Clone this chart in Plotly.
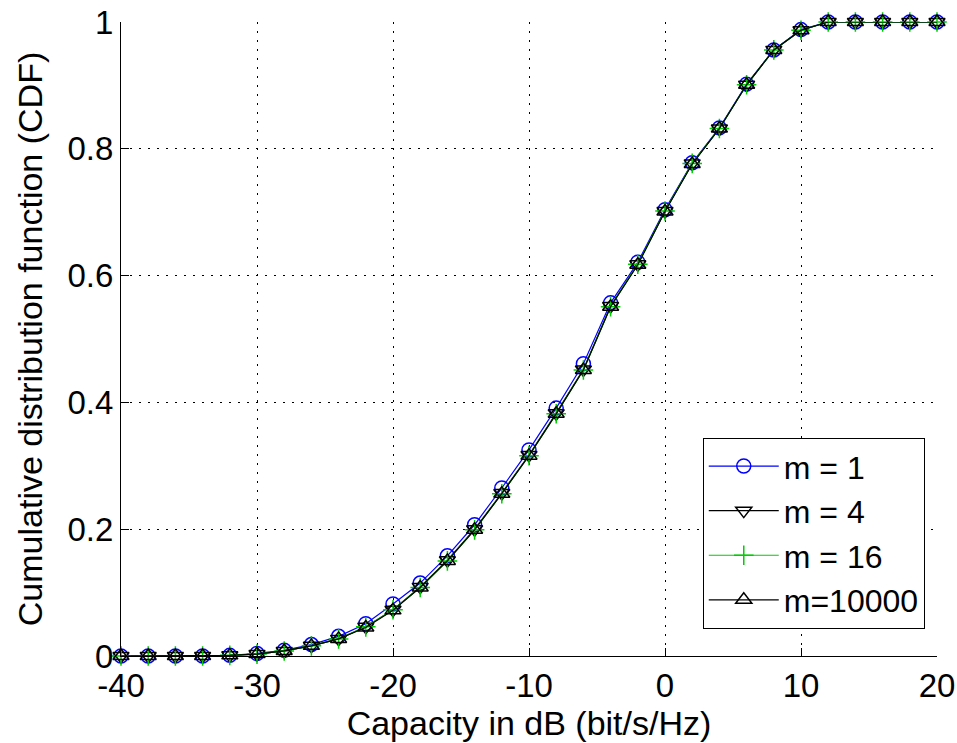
import plotly.graph_objects as go

capacity_db = [-40, -38, -36, -34, -32, -30, -28, -26, -24, -22, -20, -18, -16, -14, -12, -10,
               -8, -6, -4, -2, 0, 2, 4, 6, 8, 10, 12, 14, 16, 18, 20]

cdf_m1 = [0.000, 0.000, 0.000, 0.000, 0.001, 0.004, 0.009, 0.018, 0.031, 0.051, 0.082, 0.115,
          0.158, 0.207, 0.265, 0.325, 0.391, 0.461, 0.557, 0.621, 0.704, 0.778, 0.833, 0.902,
          0.956, 0.988, 1.000, 1.000, 1.000, 1.000, 1.000]
cdf_m4 = [0.000, 0.000, 0.000, 0.000, 0.001, 0.003, 0.008, 0.016, 0.027, 0.046, 0.073, 0.109,
          0.151, 0.200, 0.257, 0.317, 0.383, 0.452, 0.552, 0.618, 0.702, 0.777, 0.832, 0.901,
          0.956, 0.987, 1.000, 1.000, 1.000, 1.000, 1.000]
cdf_m16 = [0.000, 0.000, 0.000, 0.000, 0.001, 0.003, 0.008, 0.016, 0.027, 0.046, 0.073, 0.108,
           0.150, 0.199, 0.256, 0.316, 0.382, 0.451, 0.551, 0.618, 0.702, 0.777, 0.832, 0.901,
           0.956, 0.987, 1.000, 1.000, 1.000, 1.000, 1.000]
cdf_m10000 = [0.000, 0.000, 0.000, 0.000, 0.001, 0.003, 0.008, 0.016, 0.027, 0.045, 0.072, 0.108,
              0.150, 0.199, 0.256, 0.316, 0.382, 0.451, 0.551, 0.617, 0.701, 0.776, 0.832, 0.901,
              0.956, 0.987, 1.000, 1.000, 1.000, 1.000, 1.000]

series_names = ["m = 1", "m = 4", "m = 16", "m=10000"]
x_ticks = [-40, -30, -20, -10, 0, 10, 20]
x_tick_labels = ["-40", "-30", "-20", "-10", "0", "10", "20"]
y_ticks = [0, 0.2, 0.4, 0.6, 0.8, 1]
y_tick_labels = ["0", "0.2", "0.4", "0.6", "0.8", "1"]

FONT = "Liberation Sans, Arial, sans-serif"

styles = [
    dict(color="#0000ff", symbol="circle-open", size=14),
    dict(color="#000000", symbol="triangle-down-open", size=14),
    dict(color="#00cc00", symbol="cross-thin-open", size=14),
    dict(color="#000000", symbol="triangle-up-open", size=14),
]
data = [cdf_m1, cdf_m4, cdf_m16, cdf_m10000]

fig = go.Figure()
for name, ys, st in zip(series_names, data, styles):
    fig.add_trace(go.Scatter(
        x=capacity_db, y=ys, name=name, mode="lines+markers",
        line=dict(color=st["color"], width=1.2),
        marker=dict(symbol=st["symbol"], size=st["size"], color=st["color"],
                    line=dict(color=st["color"], width=1.5)),
        cliponaxis=False,
    ))

fig.update_layout(
    width=957, height=743,
    margin=dict(l=121, r=20, t=22, b=87),
    paper_bgcolor="white", plot_bgcolor="white",
    font=dict(family=FONT, size=33, color="black"),
    showlegend=True,
    legend=dict(
        x=0.985, y=0.043, xanchor="right", yanchor="bottom",
        bgcolor="white", bordercolor="black", borderwidth=1,
        font=dict(family=FONT, size=32, color="black"),
        tracegroupgap=0, itemwidth=70,
    ),
)
fig.update_xaxes(
    range=[-40, 20], tickvals=x_ticks, ticktext=x_tick_labels,
    showline=True, linecolor="black", linewidth=1, mirror=False,
    ticks="inside", ticklen=8, tickcolor="black",
    showgrid=True, gridcolor="#000000", gridwidth=1, griddash="2px,7px",
    zeroline=False, automargin=False,
    title=dict(text="Capacity in dB (bit/s/Hz)", font=dict(family=FONT, size=34), standoff=4),
    tickfont=dict(family=FONT, size=33),
)
fig.update_yaxes(
    range=[0, 1], tickvals=y_ticks, ticktext=y_tick_labels,
    showline=True, linecolor="black", linewidth=1, mirror=False,
    ticks="inside", ticklen=8, tickcolor="black",
    showgrid=True, gridcolor="#000000", gridwidth=1, griddash="2px,7px",
    zeroline=False, automargin=False,
    title=dict(text="Cumulative distribution function (CDF)", font=dict(family=FONT, size=34), standoff=14),
    tickfont=dict(family=FONT, size=33),
)

fig.write_html("out.html")
